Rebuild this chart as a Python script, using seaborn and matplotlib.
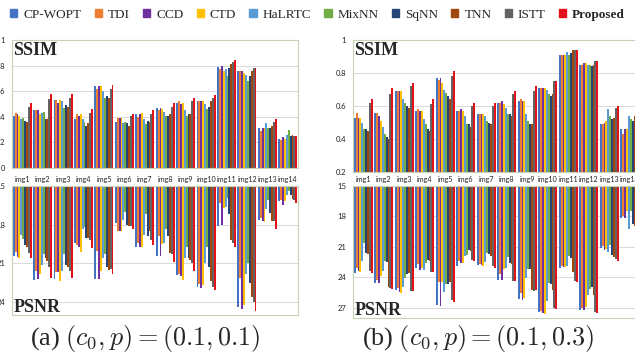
import seaborn as sns
import matplotlib.pyplot as plt
import pandas as pd
import numpy as np

METHODS = ['CP-WOPT', 'TDI', 'CCD', 'CTD', 'HaLRTC', 'MixNN', 'SqNN', 'TNN', 'ISTT', 'Proposed']
COLORS = ['#4472C4', '#ED7D31', '#7030A0', '#FFC000', '#5B9BD5',
          '#70AD47', '#264478', '#9E480E', '#636363', '#E3121A']
IMAGES = ['img%d' % i for i in range(1, 15)]

# one row per image, one value per method (order of METHODS)
SSIM_A = [
    [0.41, 0.43, 0.42, 0.41, 0.38, 0.39, 0.37, 0.36, 0.48, 0.51],
    [0.45, 0.45, 0.45, 0.42, 0.43, 0.44, 0.38, 0.38, 0.54, 0.58],
    [0.53, 0.53, 0.51, 0.53, 0.52, 0.47, 0.49, 0.48, 0.55, 0.58],
    [0.38, 0.42, 0.41, 0.42, 0.38, 0.36, 0.33, 0.35, 0.43, 0.46],
    [0.64, 0.62, 0.64, 0.64, 0.60, 0.55, 0.56, 0.55, 0.62, 0.65],
    [0.36, 0.39, 0.39, 0.39, 0.35, 0.36, 0.35, 0.33, 0.41, 0.42],
    [0.42, 0.40, 0.42, 0.43, 0.38, 0.34, 0.37, 0.36, 0.42, 0.45],
    [0.47, 0.45, 0.47, 0.46, 0.44, 0.41, 0.41, 0.42, 0.48, 0.51],
    [0.51, 0.52, 0.50, 0.51, 0.45, 0.41, 0.42, 0.42, 0.52, 0.55],
    [0.52, 0.52, 0.52, 0.52, 0.50, 0.46, 0.48, 0.52, 0.55, 0.57],
    [0.79, 0.77, 0.80, 0.76, 0.77, 0.72, 0.78, 0.81, 0.83, 0.84],
    [0.76, 0.76, 0.76, 0.74, 0.73, 0.68, 0.72, 0.76, 0.78, 0.78],
    [0.31, 0.29, 0.31, 0.31, 0.35, 0.31, 0.31, 0.33, 0.36, 0.38],
    [0.23, 0.22, 0.24, 0.23, 0.26, 0.30, 0.25, 0.26, 0.25, 0.25],
]
PSNR_A = [
    [20.4, 20.1, 20.5, 20.6, 18.8, 19.1, 19.6, 19.7, 20.2, 20.6],
    [22.3, 21.6, 22.2, 21.8, 21.1, 20.3, 20.6, 20.8, 21.3, 22.1],
    [22.2, 21.7, 21.7, 22.4, 21.6, 20.3, 21.1, 21.3, 21.6, 22.1],
    [19.4, 19.6, 19.7, 20.1, 18.3, 18.2, 19.0, 19.0, 19.2, 19.8],
    [22.2, 20.0, 22.2, 21.6, 20.6, 20.3, 21.3, 21.5, 21.4, 21.8],
    [17.9, 18.5, 18.5, 18.5, 17.6, 17.0, 18.0, 18.1, 18.1, 18.3],
    [19.7, 19.4, 19.7, 19.7, 18.8, 17.2, 18.9, 18.5, 19.2, 19.6],
    [20.4, 18.9, 20.4, 19.5, 19.4, 18.3, 18.9, 20.2, 20.3, 20.9],
    [21.9, 21.8, 22.0, 22.3, 20.6, 19.7, 20.6, 20.7, 21.0, 21.6],
    [22.8, 22.6, 22.9, 22.7, 21.0, 19.7, 21.3, 22.4, 22.8, 23.1],
    [18.1, 16.3, 18.0, 16.7, 16.6, 15.9, 17.2, 19.2, 19.4, 19.7],
    [24.4, 22.1, 24.5, 24.2, 21.8, 21.0, 22.5, 23.6, 24.0, 24.7],
    [17.6, 17.5, 17.7, 17.8, 16.8, 16.1, 17.1, 17.7, 17.7, 18.3],
    [16.2, 16.1, 16.5, 16.2, 15.7, 15.4, 15.7, 16.0, 16.1, 16.3],
]
SSIM_B = [
    [0.53, 0.56, 0.53, 0.53, 0.50, 0.46, 0.46, 0.45, 0.62, 0.64],
    [0.56, 0.56, 0.54, 0.51, 0.47, 0.43, 0.41, 0.40, 0.67, 0.71],
    [0.69, 0.69, 0.69, 0.69, 0.64, 0.62, 0.60, 0.59, 0.72, 0.74],
    [0.57, 0.58, 0.57, 0.57, 0.52, 0.49, 0.46, 0.45, 0.61, 0.64],
    [0.77, 0.76, 0.77, 0.74, 0.70, 0.68, 0.66, 0.64, 0.78, 0.81],
    [0.57, 0.57, 0.58, 0.57, 0.54, 0.49, 0.49, 0.47, 0.60, 0.62],
    [0.55, 0.55, 0.55, 0.55, 0.54, 0.51, 0.50, 0.49, 0.60, 0.62],
    [0.62, 0.62, 0.63, 0.61, 0.59, 0.55, 0.55, 0.54, 0.67, 0.69],
    [0.63, 0.64, 0.63, 0.63, 0.55, 0.51, 0.49, 0.49, 0.69, 0.72],
    [0.71, 0.71, 0.71, 0.71, 0.70, 0.67, 0.66, 0.67, 0.75, 0.75],
    [0.91, 0.91, 0.91, 0.91, 0.93, 0.91, 0.92, 0.94, 0.94, 0.94],
    [0.85, 0.85, 0.86, 0.86, 0.85, 0.85, 0.84, 0.85, 0.87, 0.87],
    [0.49, 0.49, 0.50, 0.51, 0.58, 0.54, 0.52, 0.53, 0.59, 0.60],
    [0.46, 0.43, 0.46, 0.46, 0.54, 0.52, 0.51, 0.54, 0.55, 0.56],
]
PSNR_B = [
    [23.6, 23.1, 23.4, 23.5, 22.4, 20.6, 21.6, 21.7, 23.4, 23.6],
    [24.6, 24.3, 24.6, 23.9, 23.4, 22.4, 22.5, 24.9, 25.0, 25.1],
    [25.2, 25.0, 25.4, 25.5, 24.9, 24.1, 23.7, 23.6, 25.3, 25.3],
    [23.1, 22.7, 23.3, 23.1, 23.3, 22.6, 22.3, 22.4, 23.5, 23.5],
    [26.7, 24.5, 26.8, 24.5, 25.4, 24.7, 24.7, 24.5, 26.2, 26.4],
    [22.9, 22.4, 22.6, 22.6, 21.9, 21.8, 21.3, 21.4, 22.3, 22.4],
    [22.8, 22.7, 22.8, 22.9, 22.5, 21.6, 21.7, 21.9, 22.9, 23.1],
    [24.3, 23.7, 24.3, 23.2, 23.1, 22.0, 22.6, 22.7, 24.4, 24.4],
    [26.1, 25.5, 26.2, 26.0, 24.1, 23.2, 23.2, 25.2, 25.3, 25.2],
    [27.4, 27.3, 27.5, 27.6, 26.3, 24.6, 24.7, 25.2, 27.0, 27.1],
    [23.1, 22.9, 23.0, 23.0, 22.9, 21.9, 22.1, 23.5, 24.4, 24.5],
    [27.2, 27.0, 27.2, 26.9, 25.7, 25.1, 24.9, 25.7, 27.4, 27.5],
    [21.1, 20.9, 21.3, 21.2, 21.5, 20.8, 21.8, 22.0, 22.2, 22.4],
    [18.2, 18.0, 18.2, 17.5, 19.2, 17.5, 18.7, 18.9, 18.8, 19.0],
]

BORDER = '#C4D4B4'
TICK_FONT = 'Lato'


def to_long(rows):
    df = pd.DataFrame(rows, columns=METHODS)
    df['img'] = IMAGES
    return df.melt(id_vars='img', var_name='method', value_name='val')


def draw_bars(ax, rows):
    sns.barplot(data=to_long(rows), x='img', y='val', hue='method',
                order=IMAGES, hue_order=METHODS, palette=COLORS,
                saturation=1, width=0.93, errorbar=None, linewidth=0,
                ax=ax)
    ax.set_xlabel('')
    ax.set_ylabel('')
    ax.set_xlim(-0.5, 13.5)
    for s in ax.spines.values():
        s.set_color(BORDER)
        s.set_linewidth(0.8)
    ax.grid(axis='y', color='#D9D9D9', linewidth=0.7)
    ax.grid(axis='x', visible=False)
    ax.set_axisbelow(True)
    ax.tick_params(axis='both', length=0, labelsize=5.5, colors='#222222')


def ssim_panel(ax, rows, lo, ticks):
    draw_bars(ax, rows)
    ax.set_ylim(lo, 1)
    ax.set_yticks(ticks)
    ax.set_yticklabels([('%g' % t) for t in ticks], family=TICK_FONT)
    ax.set_xticklabels([])
    ax.tick_params(axis='y', pad=5)
    ax.get_legend().remove()
    ax.text(0.004, 0.985, 'SSIM', transform=ax.transAxes, va='top',
            ha='left', family='Liberation Serif', weight='bold', fontsize=13)


def psnr_panel(ax, rows, hi, ticks):
    draw_bars(ax, rows)
    ax.set_ylim(hi, 15)
    ax.set_yticks(ticks)
    ax.set_yticklabels([str(t) for t in ticks], family=TICK_FONT)
    ax.xaxis.tick_top()
    ax.set_xticks(range(len(IMAGES)))
    ax.set_xticklabels(IMAGES, family=TICK_FONT, fontsize=5.1)
    ax.tick_params(axis='x', pad=2)
    ax.tick_params(axis='y', pad=5)
    ax.get_legend().remove()
    ax.text(0.004, 0.025, 'PSNR', transform=ax.transAxes, va='baseline',
            ha='left', family='Liberation Serif', weight='bold', fontsize=13)


sns.set_style('white')
plt.rcParams['mathtext.fontset'] = 'cm'

W, H = 635, 358
fig = plt.figure(figsize=(W / 100, H / 100), dpi=100)


def box(x0, y0, x1, y1):
    return [x0 / W, 1 - y1 / H, (x1 - x0) / W, (y1 - y0) / H]


ax_sa = fig.add_axes(box(12, 40, 298, 168))
ax_pa = fig.add_axes(box(12, 186, 298, 315))
ax_sb = fig.add_axes(box(353, 40, 640, 172))
ax_pb = fig.add_axes(box(353, 186, 640, 318))

ssim_panel(ax_sa, SSIM_A, 0, [0, 0.2, 0.4, 0.6, 0.8, 1])
psnr_panel(ax_pa, PSNR_A, 25, [15, 18, 21, 24])
ssim_panel(ax_sb, SSIM_B, 0.2, [0.2, 0.4, 0.6, 0.8, 1])
psnr_panel(ax_pb, PSNR_B, 28, [15, 18, 21, 24, 27])

handles = [plt.Rectangle((0, 0), 1, 1, color=c) for c in COLORS]
leg = fig.legend(handles, METHODS, loc='center', bbox_to_anchor=(0.5, 1 - 15 / H),
                 ncol=10, frameon=False, prop={'family': 'Liberation Serif', 'size': 9.5},
                 handlelength=0.55, handleheight=0.55, handletextpad=0.45,
                 columnspacing=1.0, borderaxespad=0)
leg.get_texts()[-1].set_fontweight('bold')

fig.text(145 / W, 1 - 338 / H, '(a) $(c_0, p) = (0.1, 0.1)$', ha='center', va='center',
         family='Liberation Serif', fontsize=18.8)
fig.text(478 / W, 1 - 338 / H, '(b) $(c_0, p) = (0.1, 0.3)$', ha='center', va='center',
         family='Liberation Serif', fontsize=18.8)

fig.savefig('out.png', dpi=100)
